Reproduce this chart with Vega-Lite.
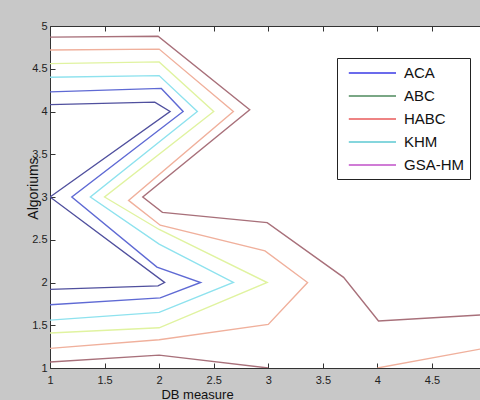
{
  "$schema": "https://vega.github.io/schema/vega-lite/v6.json",
  "width": 430,
  "height": 342,
  "autosize": "none",
  "padding": {"left": 50, "top": 26, "right": 0, "bottom": 32},
  "background": "#c8c8c8",
  "config": {"view": {"fill": "white", "stroke": null}, "font": "Liberation Sans"},
  "datasets": {
    "contours": [
      {"line": "a", "level": "c1", "o": 1, "x": 1, "y": 4.08},
      {"line": "a", "level": "c1", "o": 2, "x": 1.96, "y": 4.11},
      {"line": "a", "level": "c1", "o": 3, "x": 2.1, "y": 4.0},
      {"line": "a", "level": "c1", "o": 4, "x": 1, "y": 3.0},
      {"line": "a", "level": "c1", "o": 5, "x": 2.05, "y": 2.0},
      {"line": "a", "level": "c1", "o": 6, "x": 1.99, "y": 1.96},
      {"line": "a", "level": "c1", "o": 7, "x": 1, "y": 1.92},
      {"line": "b", "level": "c2", "o": 1, "x": 1, "y": 4.23},
      {"line": "b", "level": "c2", "o": 2, "x": 2.02, "y": 4.27},
      {"line": "b", "level": "c2", "o": 3, "x": 2.22, "y": 4.0},
      {"line": "b", "level": "c2", "o": 4, "x": 1.2, "y": 3.0},
      {"line": "b", "level": "c2", "o": 5, "x": 1.98, "y": 2.18},
      {"line": "b", "level": "c2", "o": 6, "x": 2.38, "y": 2.0},
      {"line": "b", "level": "c2", "o": 7, "x": 2.01, "y": 1.82},
      {"line": "b", "level": "c2", "o": 8, "x": 1, "y": 1.74},
      {"line": "c", "level": "c3", "o": 1, "x": 1, "y": 4.4},
      {"line": "c", "level": "c3", "o": 2, "x": 2.0, "y": 4.42},
      {"line": "c", "level": "c3", "o": 3, "x": 2.35, "y": 4.0},
      {"line": "c", "level": "c3", "o": 4, "x": 1.37, "y": 3.0},
      {"line": "c", "level": "c3", "o": 5, "x": 2.0, "y": 2.45},
      {"line": "c", "level": "c3", "o": 6, "x": 2.68, "y": 2.0},
      {"line": "c", "level": "c3", "o": 7, "x": 2.0, "y": 1.65},
      {"line": "c", "level": "c3", "o": 8, "x": 1, "y": 1.56},
      {"line": "d", "level": "c4", "o": 1, "x": 1, "y": 4.56},
      {"line": "d", "level": "c4", "o": 2, "x": 2.0, "y": 4.58},
      {"line": "d", "level": "c4", "o": 3, "x": 2.5, "y": 4.0},
      {"line": "d", "level": "c4", "o": 4, "x": 1.5, "y": 3.0},
      {"line": "d", "level": "c4", "o": 5, "x": 2.0, "y": 2.62},
      {"line": "d", "level": "c4", "o": 6, "x": 2.99, "y": 2.0},
      {"line": "d", "level": "c4", "o": 7, "x": 2.0, "y": 1.47},
      {"line": "d", "level": "c4", "o": 8, "x": 1, "y": 1.41},
      {"line": "e", "level": "c5", "o": 1, "x": 1, "y": 4.72},
      {"line": "e", "level": "c5", "o": 2, "x": 2.0, "y": 4.73},
      {"line": "e", "level": "c5", "o": 3, "x": 2.68, "y": 4.0},
      {"line": "e", "level": "c5", "o": 4, "x": 1.72, "y": 2.96},
      {"line": "e", "level": "c5", "o": 5, "x": 2.01, "y": 2.67},
      {"line": "e", "level": "c5", "o": 6, "x": 2.97, "y": 2.37},
      {"line": "e", "level": "c5", "o": 7, "x": 3.36, "y": 2.0},
      {"line": "e", "level": "c5", "o": 8, "x": 3.0, "y": 1.51},
      {"line": "e", "level": "c5", "o": 9, "x": 2.0, "y": 1.33},
      {"line": "e", "level": "c5", "o": 10, "x": 1, "y": 1.23},
      {"line": "f", "level": "c5", "o": 1, "x": 4.0, "y": 1.0},
      {"line": "f", "level": "c5", "o": 2, "x": 5.0, "y": 1.235},
      {"line": "g", "level": "c6", "o": 1, "x": 1, "y": 4.87},
      {"line": "g", "level": "c6", "o": 2, "x": 1.99, "y": 4.88},
      {"line": "g", "level": "c6", "o": 3, "x": 2.83, "y": 4.02},
      {"line": "g", "level": "c6", "o": 4, "x": 1.85, "y": 3.0},
      {"line": "g", "level": "c6", "o": 5, "x": 2.03, "y": 2.82},
      {"line": "g", "level": "c6", "o": 6, "x": 2.99, "y": 2.7},
      {"line": "g", "level": "c6", "o": 7, "x": 3.69, "y": 2.06},
      {"line": "g", "level": "c6", "o": 8, "x": 4.01, "y": 1.55},
      {"line": "g", "level": "c6", "o": 9, "x": 5.0, "y": 1.625},
      {"line": "h", "level": "c6", "o": 1, "x": 1, "y": 1.07},
      {"line": "h", "level": "c6", "o": 2, "x": 2.0, "y": 1.15},
      {"line": "h", "level": "c6", "o": 3, "x": 3.0, "y": 1.0}
    ],
    "legend": [
      {"alg": "ACA", "x": 1, "y": 5},
      {"alg": "ABC", "x": 1, "y": 5},
      {"alg": "HABC", "x": 1, "y": 5},
      {"alg": "KHM", "x": 1, "y": 5},
      {"alg": "GSA-HM", "x": 1, "y": 5}
    ]
  },
  "layer": [
    {
      "data": {"name": "contours"},
      "mark": {"type": "line", "strokeWidth": 1.4, "clip": true},
      "encoding": {
        "x": {
          "field": "x", "type": "quantitative",
          "scale": {"domain": [1, 4.94], "nice": false, "zero": false},
          "axis": {
            "values": [1, 1.5, 2, 2.5, 3, 3.5, 4, 4.5],
            "format": "~g", "grid": false, "tickSize": -5, "labelPadding": 11,
            "labelFlush": false, "labelOverlap": false,
            "labelFontSize": 11, "labelColor": "#222", "domainColor": "#333", "tickColor": "#333",
            "title": "DB measure", "titleFontSize": 13, "titleFontWeight": "normal", "titleColor": "#111",
            "titleX": 147, "titleY": 30, "titleBaseline": "alphabetic", "titleAlign": "center"
          }
        },
        "y": {
          "field": "y", "type": "quantitative",
          "scale": {"domain": [1, 5], "nice": false, "zero": false},
          "axis": {
            "values": [1, 1.5, 2, 2.5, 3, 3.5, 4, 4.5, 5],
            "format": "~g", "grid": false, "tickSize": -5, "labelPadding": 8,
            "labelFlush": false, "labelOverlap": false,
            "labelFontSize": 11, "labelColor": "#222", "domainColor": "#333", "tickColor": "#333",
            "title": "Algoriums", "titleFontSize": 14, "titleFontWeight": "normal", "titleColor": "#111",
            "titleX": -13, "titleY": 162, "titleBaseline": "alphabetic", "titleAlign": "center", "titleAngle": -90
          }
        },
        "detail": {"field": "line"},
        "order": {"field": "o"},
        "color": {
          "field": "level", "type": "nominal",
          "scale": {"domain": ["c1", "c2", "c3", "c4", "c5", "c6"],
                    "range": ["#50509e", "#5f6ad4", "#8ee2ee", "#e0f3a0", "#f0b09c", "#a8707a"]},
          "legend": null
        }
      }
    },
    {
      "data": {"name": "legend"},
      "mark": {"type": "line", "strokeWidth": 1.5},
      "encoding": {
        "x": {
          "field": "x", "type": "quantitative",
          "scale": {"domain": [1, 4.94], "nice": false, "zero": false},
          "axis": {"orient": "top", "values": [1, 1.5, 2, 2.5, 3, 3.5, 4, 4.5], "labels": false, "title": null,
                   "grid": false, "tickSize": -5, "domainColor": "#333", "tickColor": "#333"}
        },
        "y": {
          "field": "y", "type": "quantitative",
          "scale": {"domain": [1, 5], "nice": false, "zero": false}
        },
        "color": {
          "field": "alg", "type": "nominal",
          "scale": {"domain": ["ACA", "ABC", "HABC", "KHM", "GSA-HM"],
                    "range": ["#3a3ae6", "#4e8a5c", "#e85a5a", "#5cc8d2", "#c050c8"]},
          "legend": {
            "orient": "none", "legendX": 287, "legendY": 32, "title": null,
            "fillColor": "white", "strokeColor": "#222", "padding": 6,
            "symbolType": "M-0.4,0H5.5", "symbolSize": 256, "symbolStrokeWidth": 1.5,
            "labelFontSize": 15, "labelColor": "#111", "rowPadding": 6, "labelOffset": 43
          }
        }
      }
    }
  ],
  "resolve": {"scale": {"color": "independent"}, "axis": {"x": "independent"}}
}
